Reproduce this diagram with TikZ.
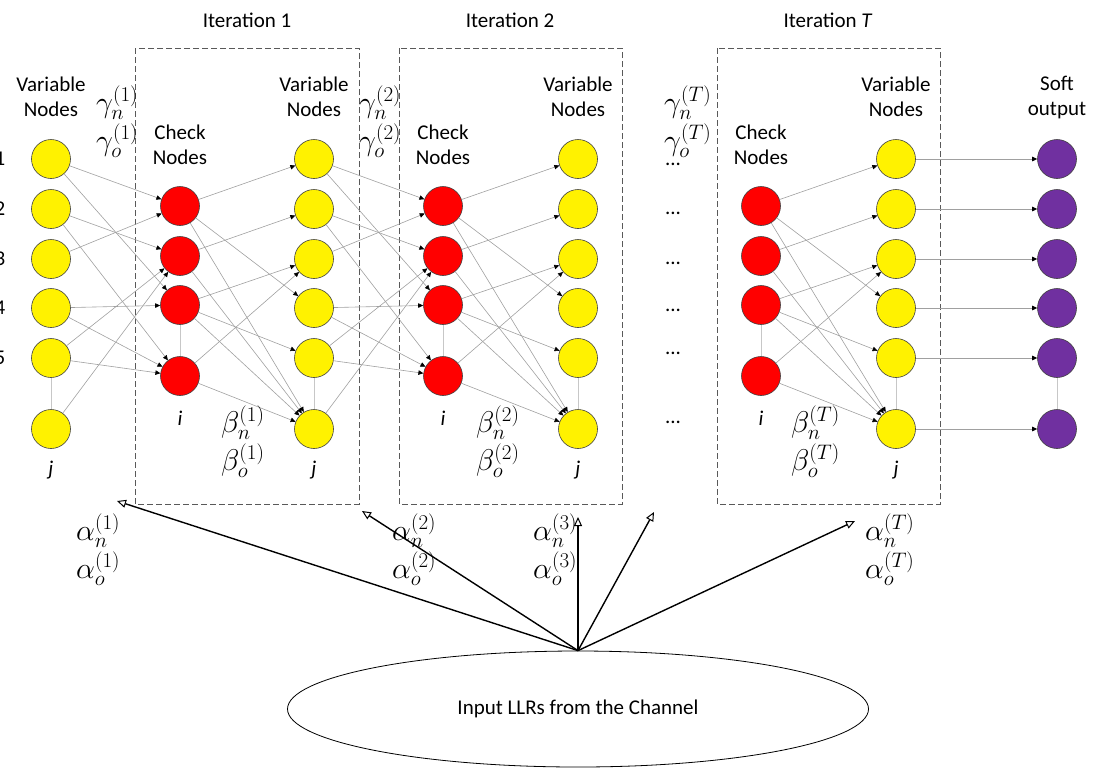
\RequirePackage{fix-cm}
\documentclass[tikz,border=0pt]{standalone}
\usepackage{fontspec}
\setmainfont{Carlito}
\usetikzlibrary{arrows.meta,shapes.geometric}
\definecolor{softpurple}{HTML}{7030A0}
\definecolor{linkgray}{HTML}{A0A0A0}
\begin{document}
\begin{tikzpicture}[x=1pt,y=-1pt,
  every node/.style={font=\fontsize{21}{25}\selectfont},
  vnode/.style={circle, draw=black!75, line width=0.6pt, fill=yellow, minimum size=39pt, inner sep=0pt},
  cnode/.style={vnode, fill=red},
  snode/.style={vnode, fill=softpurple},
  link/.style={draw=linkgray, line width=0.6pt, -{Triangle[length=5pt,width=4.5pt,color=black]}},
  vline/.style={draw=black!22, line width=0.6pt},
  iterbox/.style={draw=black!65, dash pattern=on 6pt off 3pt, line width=0.8pt},
  big/.style={draw=black, line width=1.4pt, -{Triangle[open,length=9pt,width=8pt,line width=1pt,fill=white]}},
  lbl/.style={align=center, inner sep=0pt},
  ml/.style={font=\fontsize{30}{34}\selectfont, inner sep=0pt, anchor=base west},
  dots/.style={inner sep=0pt, anchor=base},
  idx/.style={lbl, font=\fontsize{21}{25}\selectfont\itshape},
]
\useasboundingbox (0,0) rectangle (1097,769);

% iteration boxes
\draw[iterbox] (135,48) rectangle (359,504);
\draw[iterbox] (399,48) rectangle (622,504);
\draw[iterbox] (717,48) rectangle (940,504);
\node[lbl] (it1) at (247,20) {Iteration 1};
\node[lbl] (it2) at (510,20) {Iteration 2};
\node[lbl] (itT) at (828,20) {Iteration \textit{T}};

% variable and output nodes
\foreach \y [count=\r] in {159,209,259,308,358,429} {
  \node[vnode] (va\r) at (51,\y) {};
  \node[vnode] (vb\r) at (314,\y) {};
  \node[vnode] (vc\r) at (578,\y) {};
  \node[vnode] (vt\r) at (896,\y) {};
  \node[snode] (s\r) at (1057,\y) {};
}
% check nodes
\foreach \y [count=\r] in {206,256,305,376} {
  \node[cnode] (ca\r) at (180,\y) {};
  \node[cnode] (cb\r) at (443,\y) {};
  \node[cnode] (ct\r) at (761,\y) {};
}
% row numbers
\foreach \y [count=\r] in {159,209,259,308,358} {
  \node[inner sep=0pt, anchor=east] (rn\r) at (5.5,\y) {\r};
}
% vertical light links
\draw[vline] (va5) -- (va6);
\draw[vline] (vb5) -- (vb6);
\draw[vline] (vc5) -- (vc6);
\draw[vline] (vt5) -- (vt6);
\draw[vline] (s5) -- (s6);
\draw[vline] (ca3) -- (ca4);
\draw[vline] (cb3) -- (cb4);
\draw[vline] (ct3) -- (ct4);

% variable -> check
\foreach \a/\b in {1/1,1/3,2/2,2/4,3/1,4/3,4/4,5/2,5/4,6/2} {
  \draw[link] (va\a) -- (ca\b);
  \draw[link] (vb\a) -- (cb\b);
}
% check -> variable
\foreach \a/\b in {1/1,1/4,1/6,2/2,2/6,3/3,3/5,3/6,4/3,4/6} {
  \draw[link] (ca\a) -- (vb\b);
  \draw[link] (cb\a) -- (vc\b);
  \draw[link] (ct\a) -- (vt\b);
}
% soft output
\foreach \r in {1,...,6} {
  \draw[link] (vt\r) -- (s\r);
}

% column headers
\node[lbl] (hva) at (51,97) {Variable\\Nodes};
\node[lbl] (hvb) at (314,97) {Variable\\Nodes};
\node[lbl] (hvc) at (578,97) {Variable\\Nodes};
\node[lbl] (hvt) at (896,97) {Variable\\Nodes};
\node[lbl] (hs) at (1057,97) {Soft\\output};
\node[lbl] (hca) at (180,145) {Check\\Nodes};
\node[lbl] (hcb) at (443,145) {Check\\Nodes};
\node[lbl] (hct) at (761,145) {Check\\Nodes};

% indices
\node[idx] (ia) at (180,418) {i};
\node[idx] (ib) at (443,418) {i};
\node[idx] (it) at (761,418) {i};
\node[idx] (ja) at (51,470) {j};
\node[idx] (jb) at (314,470) {j};
\node[idx] (jc) at (578,470) {j};
\node[idx] (jt) at (896,470) {j};

% dots column
\foreach \y [count=\r] in {165,214,264,311,354,423} {
  \node[dots] (d\r) at (673,\y) {...};
}

% gamma labels
\node[ml] (g1n) at (96,112) {$\gamma_n^{(1)}$};
\node[ml] (g1o) at (96,150) {$\gamma_o^{(1)}$};
\node[ml] (g2n) at (359,112) {$\gamma_n^{(2)}$};
\node[ml] (g2o) at (359,150) {$\gamma_o^{(2)}$};
\node[ml] (gTn) at (664,112) {$\gamma_n^{(T)}$};
\node[ml] (gTo) at (664,150) {$\gamma_o^{(T)}$};

% beta labels
\node[ml] (b1n) at (221,432) {$\beta_n^{(1)}$};
\node[ml] (b1o) at (221,470) {$\beta_o^{(1)}$};
\node[ml] (b2n) at (476,432) {$\beta_n^{(2)}$};
\node[ml] (b2o) at (476,470) {$\beta_o^{(2)}$};
\node[ml] (bTn) at (791,432) {$\beta_n^{(T)}$};
\node[ml] (bTo) at (791,470) {$\beta_o^{(T)}$};

% alpha labels
\node[ml] (a1n) at (76,540) {$\alpha_n^{(1)}$};
\node[ml] (a1o) at (76,578) {$\alpha_o^{(1)}$};
\node[ml] (a2n) at (392,540) {$\alpha_n^{(2)}$};
\node[ml] (a2o) at (392,578) {$\alpha_o^{(2)}$};
\node[ml] (a3n) at (533,540) {$\alpha_n^{(3)}$};
\node[ml] (a3o) at (533,578) {$\alpha_o^{(3)}$};
\node[ml] (aTn) at (865,540) {$\alpha_n^{(T)}$};
\node[ml] (aTo) at (865,578) {$\alpha_o^{(T)}$};

% channel input
\node[ellipse, draw=black, line width=0.8pt, minimum width=581pt, minimum height=116pt, inner sep=0pt] (llr) at (578,709) {Input LLRs from the Channel};
\coordinate (t1) at (117,501);
\coordinate (t2) at (362,511);
\coordinate (t3) at (578,517);
\coordinate (t4) at (654,512);
\coordinate (t5) at (855,521);
\foreach \t in {t1,t2,t3,t4,t5} {
  \draw[big] (llr.north) -- (\t);
}
\end{tikzpicture}
\end{document}
